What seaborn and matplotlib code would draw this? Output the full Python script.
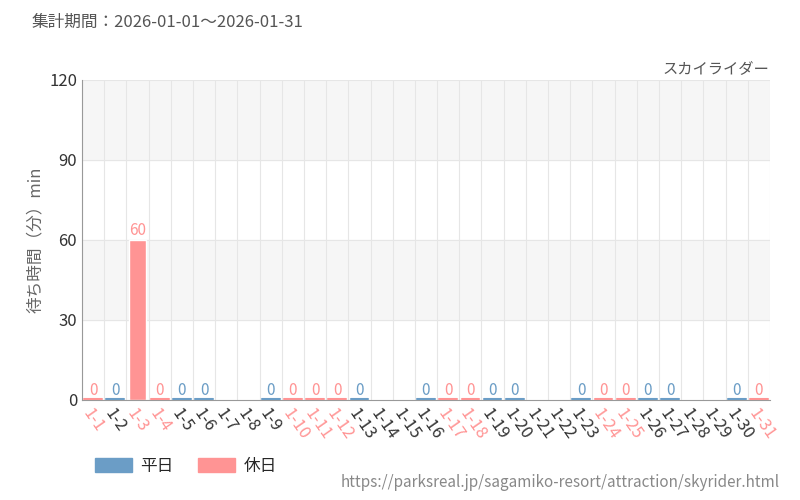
import seaborn as sns
import matplotlib.pyplot as plt
import pandas as pd
import numpy as np
from matplotlib.patches import Patch

sns.set_style("white")
plt.rcParams['font.family'] = ['Noto Sans CJK JP', 'DejaVu Sans']

days = [f"1-{d}" for d in range(1, 32)]
holidays = ["1-1", "1-3", "1-4", "1-10", "1-11", "1-12", "1-17", "1-18", "1-24", "1-25", "1-31"]
waits = [0, 0, 60, 0, 0, 0, np.nan, np.nan, 0, 0, 0, 0, 0, np.nan, np.nan, 0,
         0, 0, 0, 0, np.nan, np.nan, 0, 0, 0, 0, 0, np.nan, np.nan, 0, 0]

blue = "#6b9dc6"
pink = "#ff9494"
df = pd.DataFrame({"day": days, "wait": waits})
df["kind"] = ["休日" if d in holidays else "平日" for d in days]

fig = plt.figure(figsize=(8, 5), dpi=100)
ax = fig.add_axes([0.1025, 0.2, 0.86, 0.64])
for lo, hi in [(0, 30), (60, 90)]:
    ax.axhspan(lo + 30, hi + 30, color="#f6f6f6", zorder=0)
sns.barplot(data=df, x="day", y="wait", hue="kind", palette={"平日": blue, "休日": pink},
            dodge=False, width=0.8, saturation=1, legend=False, ax=ax, zorder=2)
for i, (v, k) in enumerate(zip(waits, df["kind"])):
    if not np.isnan(v):
        c = pink if k == "休日" else blue
        ax.text(i, v + 0.5, f"{int(v)}", ha="center", va="bottom", fontsize=11, color=c, zorder=3)
        if v == 0:
            ax.plot([i - 0.4, i + 0.4], [0.3, 0.3], color=c, lw=1.5, zorder=3)
ax.set_xlim(-0.5, 30.5)
ax.set_ylim(0, 120)
ax.set_yticks([0, 30, 60, 90, 120])
for x in np.arange(-0.5, 31, 1):
    ax.axvline(x, color="#e6e6e6", lw=0.8, zorder=1)
for y in [30, 60, 90, 120]:
    ax.axhline(y, color="#e6e6e6", lw=0.8, zorder=1)
ax.set_xlabel("")
ax.set_ylabel("待ち時間（分）min", color="#666666", fontsize=12)
ax.tick_params(axis="y", labelsize=12, colors="#333333", length=0)
ax.set_xticks(range(31))
ax.set_xticklabels(days, rotation=-55, ha="left", rotation_mode="anchor", fontsize=12)
for lab, d in zip(ax.get_xticklabels(), days):
    lab.set_color(pink if d in holidays else "#333333")
ax.tick_params(axis="x", length=0, pad=4)
for s in ["top", "right"]:
    ax.spines[s].set_visible(False)
ax.spines["left"].set_color("#999999")
ax.spines["bottom"].set_color("#999999")

fig.text(0.04, 0.955, "集計期間：2026-01-01～2026-01-31", fontsize=12, color="#555555", va="center")
fig.text(0.962, 0.862, "スカイライダー", fontsize=11, color="#555555", ha="right", va="center")
fig.legend(handles=[Patch(color=blue, label="平日"), Patch(color=pink, label="休日")],
           loc="center left", bbox_to_anchor=(0.1, 0.067), ncol=2, frameon=False,
           fontsize=12, handlelength=2.2, handleheight=0.9, handletextpad=0.5, columnspacing=1.5)
fig.text(0.975, 0.035, "https://parksreal.jp/sagamiko-resort/attraction/skyrider.html",
         fontsize=11, color="#888888", ha="right", va="center")
fig.savefig("out.png", dpi=100)
